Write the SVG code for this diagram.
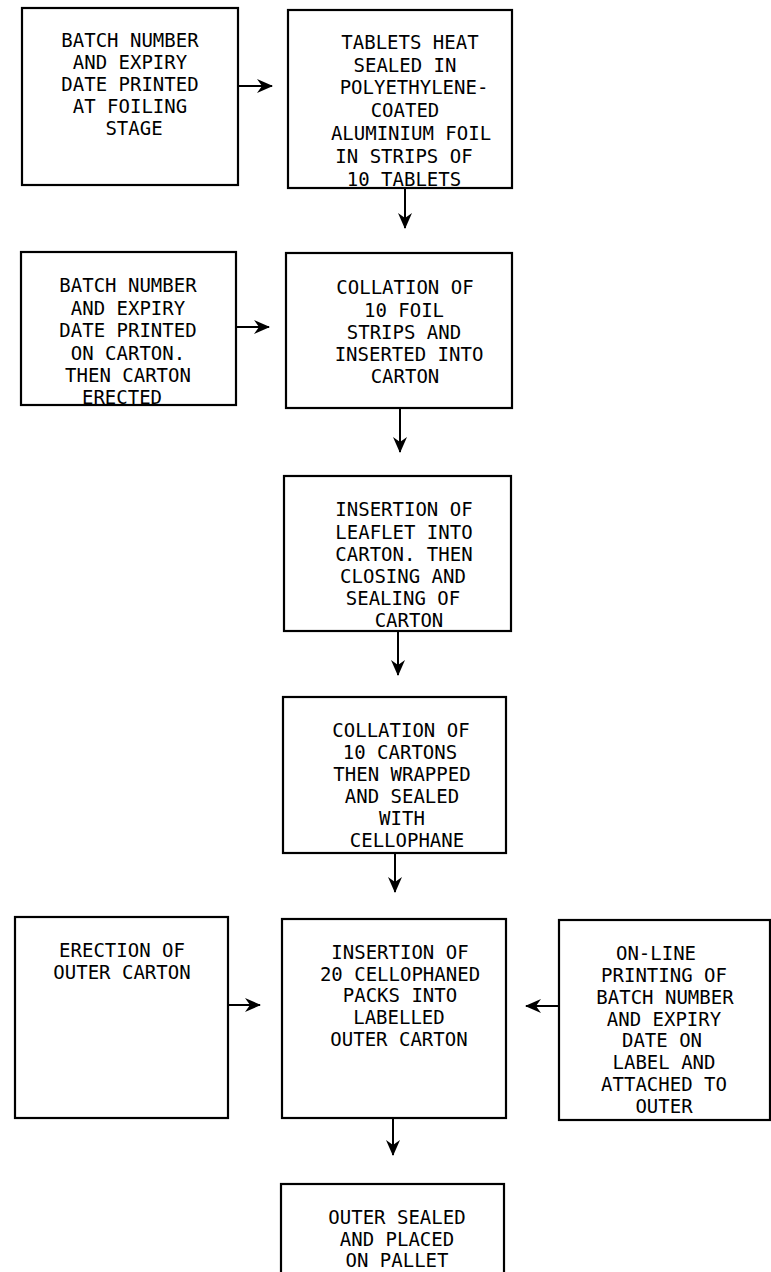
<svg xmlns="http://www.w3.org/2000/svg" width="771" height="1272" viewBox="0 0 771 1272">
  <style>
    .box { fill: #fff; stroke: #000; stroke-width: 2.2; }
    .lbl { font-family: "DejaVu Sans Mono", "Liberation Mono", monospace; font-size: 19px; fill: #000; text-anchor: middle; }
    .edge { stroke: #000; stroke-width: 2; fill: none; marker-end: url(#head); }
  </style>
  <defs>
    <marker id="head" viewBox="0 0 16 14" refX="15" refY="7" markerWidth="16" markerHeight="14" markerUnits="userSpaceOnUse" orient="auto">
      <path d="M0,0 L16,7 L0,14 L5,7 z" fill="#000"/>
    </marker>
  </defs>
  <rect width="771" height="1272" fill="#fff"/>

  <!-- connectors -->
  <g id="connectors">
    <line class="edge" x1="238" y1="86" x2="272" y2="86"/>
    <line class="edge" x1="405" y1="188" x2="405" y2="228"/>
    <line class="edge" x1="236" y1="327" x2="269" y2="327"/>
    <line class="edge" x1="400" y1="408" x2="400" y2="452"/>
    <line class="edge" x1="398" y1="631" x2="398" y2="675"/>
    <line class="edge" x1="395" y1="853" x2="395" y2="892"/>
    <line class="edge" x1="228" y1="1005" x2="260" y2="1005"/>
    <line class="edge" x1="559" y1="1006" x2="526" y2="1006"/>
    <line class="edge" x1="393" y1="1118" x2="393" y2="1155"/>
  </g>

  <!-- printing at foiling -->
  <g id="print-foil">
    <rect class="box" x="22" y="8" width="216" height="177"/>
    <text class="lbl" x="130" y="47">BATCH NUMBER</text>
    <text class="lbl" x="130" y="69">AND EXPIRY</text>
    <text class="lbl" x="130" y="91">DATE PRINTED</text>
    <text class="lbl" x="130" y="113">AT FOILING</text>
    <text class="lbl" x="134" y="135">STAGE</text>
  </g>

  <!-- foil strips -->
  <g id="foiling">
    <rect class="box" x="288" y="10" width="224" height="178"/>
    <text class="lbl" x="410" y="49">TABLETS HEAT</text>
    <text class="lbl" x="405" y="72">SEALED IN</text>
    <text class="lbl" x="414" y="94">POLYETHYLENE-</text>
    <text class="lbl" x="405" y="117">COATED</text>
    <text class="lbl" x="411" y="140">ALUMINIUM FOIL</text>
    <text class="lbl" x="404" y="163">IN STRIPS OF</text>
    <text class="lbl" x="404" y="186">10 TABLETS</text>
  </g>

  <!-- carton printing -->
  <g id="print-carton">
    <rect class="box" x="21" y="252" width="215" height="153"/>
    <text class="lbl" x="128" y="292">BATCH NUMBER</text>
    <text class="lbl" x="128" y="315">AND EXPIRY</text>
    <text class="lbl" x="128" y="337">DATE PRINTED</text>
    <text class="lbl" x="128" y="360">ON CARTON.</text>
    <text class="lbl" x="128" y="382">THEN CARTON</text>
    <text class="lbl" x="122" y="404">ERECTED</text>
  </g>

  <!-- collation of strips -->
  <g id="collate-strips">
    <rect class="box" x="286" y="253" width="226" height="155"/>
    <text class="lbl" x="405" y="294">COLLATION OF</text>
    <text class="lbl" x="404" y="317">10 FOIL</text>
    <text class="lbl" x="404" y="339">STRIPS AND</text>
    <text class="lbl" x="409" y="361">INSERTED INTO</text>
    <text class="lbl" x="405" y="383">CARTON</text>
  </g>

  <!-- leaflet insertion -->
  <g id="leaflet">
    <rect class="box" x="284" y="476" width="227" height="155"/>
    <text class="lbl" x="404" y="516">INSERTION OF</text>
    <text class="lbl" x="404" y="539">LEAFLET INTO</text>
    <text class="lbl" x="404" y="561">CARTON. THEN</text>
    <text class="lbl" x="403" y="583">CLOSING AND</text>
    <text class="lbl" x="403" y="605">SEALING OF</text>
    <text class="lbl" x="409" y="627">CARTON</text>
  </g>

  <!-- collation of cartons -->
  <g id="collate-cartons">
    <rect class="box" x="283" y="697" width="223" height="156"/>
    <text class="lbl" x="401" y="737">COLLATION OF</text>
    <text class="lbl" x="400" y="759">10 CARTONS</text>
    <text class="lbl" x="402" y="781">THEN WRAPPED</text>
    <text class="lbl" x="402" y="803">AND SEALED</text>
    <text class="lbl" x="402" y="825">WITH</text>
    <text class="lbl" x="407" y="847">CELLOPHANE</text>
  </g>

  <!-- outer carton erection -->
  <g id="outer-erect">
    <rect class="box" x="15" y="917" width="213" height="201"/>
    <text class="lbl" x="122" y="957">ERECTION OF</text>
    <text class="lbl" x="122" y="979">OUTER CARTON</text>
  </g>

  <!-- packing into outer -->
  <g id="outer-pack">
    <rect class="box" x="282" y="919" width="224" height="199"/>
    <text class="lbl" x="400" y="959">INSERTION OF</text>
    <text class="lbl" x="400" y="981">20 CELLOPHANED</text>
    <text class="lbl" x="400" y="1002">PACKS INTO</text>
    <text class="lbl" x="399" y="1024">LABELLED</text>
    <text class="lbl" x="399" y="1046">OUTER CARTON</text>
  </g>

  <!-- label printing -->
  <g id="label-print">
    <rect class="box" x="559" y="920" width="211" height="200"/>
    <text class="lbl" x="656" y="960">ON-LINE</text>
    <text class="lbl" x="664" y="982">PRINTING OF</text>
    <text class="lbl" x="665" y="1004">BATCH NUMBER</text>
    <text class="lbl" x="664" y="1026">AND EXPIRY</text>
    <text class="lbl" x="662" y="1047">DATE ON</text>
    <text class="lbl" x="664" y="1069">LABEL AND</text>
    <text class="lbl" x="664" y="1091">ATTACHED TO</text>
    <text class="lbl" x="664" y="1113">OUTER</text>
  </g>

  <!-- palletising -->
  <g id="pallet">
    <rect class="box" x="281" y="1184" width="223" height="100"/>
    <text class="lbl" x="397" y="1224">OUTER SEALED</text>
    <text class="lbl" x="397" y="1246">AND PLACED</text>
    <text class="lbl" x="397" y="1267">ON PALLET</text>
  </g>
</svg>
